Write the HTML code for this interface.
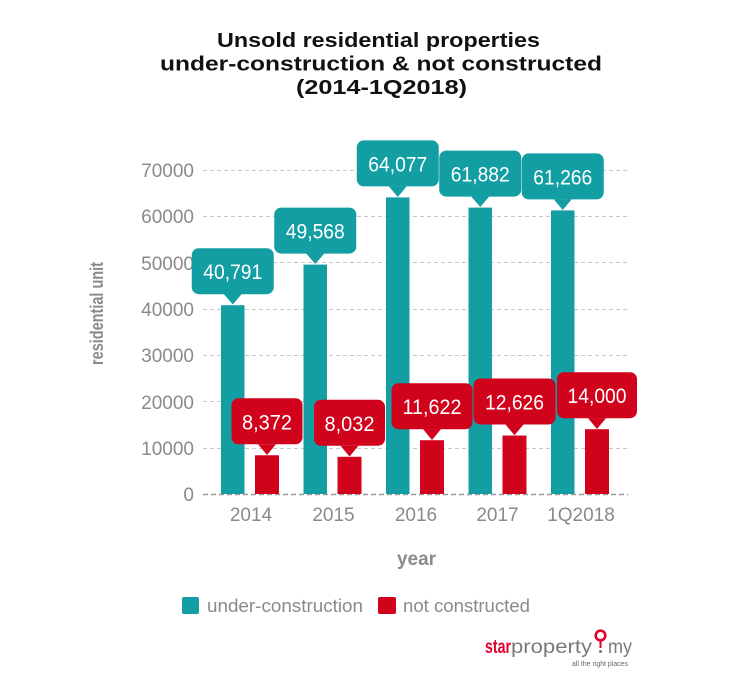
<!DOCTYPE html>
<html>
<head>
<meta charset="utf-8">
<style>
  html,body{margin:0;padding:0;background:#fff;}
  svg{display:block;}
  text{font-family:"Liberation Sans",Arial,sans-serif;}
</style>
</head>
<body>
<svg width="745" height="694" viewBox="0 0 745 694" xmlns="http://www.w3.org/2000/svg">
  <rect width="745" height="694" fill="#fff"/>

  <!-- Title -->
  <g font-weight="bold" font-size="20" fill="#111">
    <text x="217" y="47" textLength="323" lengthAdjust="spacingAndGlyphs">Unsold residential properties</text>
    <text x="160" y="70.5" textLength="442" lengthAdjust="spacingAndGlyphs">under-construction &amp; not constructed</text>
    <text x="296" y="94" textLength="171" lengthAdjust="spacingAndGlyphs">(2014-1Q2018)</text>
  </g>

  <!-- Gridlines -->
  <g stroke="#c8c8c8" stroke-width="1" stroke-dasharray="4 3">
    <line x1="203" y1="170.5" x2="628" y2="170.5"/>
    <line x1="203" y1="216.5" x2="628" y2="216.5"/>
    <line x1="203" y1="262.5" x2="628" y2="262.5"/>
    <line x1="203" y1="309.5" x2="628" y2="309.5"/>
    <line x1="203" y1="355.5" x2="628" y2="355.5"/>
    <line x1="203" y1="401.5" x2="628" y2="401.5"/>
    <line x1="203" y1="448.5" x2="628" y2="448.5"/>
  </g>
  <line x1="203" y1="494.5" x2="628" y2="494.5" stroke="#9a9a9a" stroke-width="1.5" stroke-dasharray="5 3"/>

  <!-- Y tick labels -->
  <g font-size="19" fill="#8a8a8a" text-anchor="end">
    <text x="194" y="177">70000</text>
    <text x="194" y="223">60000</text>
    <text x="194" y="270">50000</text>
    <text x="194" y="316">40000</text>
    <text x="194" y="362">30000</text>
    <text x="194" y="409">20000</text>
    <text x="194" y="455">10000</text>
    <text x="194" y="501">0</text>
  </g>

  <!-- Y axis title -->
  <text transform="translate(103,313.5) rotate(-90)" text-anchor="middle" font-size="18" font-weight="bold" fill="#8a8a8a" textLength="103" lengthAdjust="spacingAndGlyphs">residential unit</text>

  <!-- Bars teal -->
  <g fill="#139ea3">
    <rect x="221" y="305.2" width="23.5" height="188.8"/>
    <rect x="303.5" y="264.6" width="23.5" height="229.4"/>
    <rect x="386" y="197.4" width="23.5" height="296.6"/>
    <rect x="468.5" y="207.6" width="23.5" height="286.4"/>
    <rect x="551" y="210.4" width="23.5" height="283.6"/>
  </g>
  <!-- Bars red -->
  <g fill="#d0021c">
    <rect x="255" y="455.25" width="24" height="38.75"/>
    <rect x="337.5" y="456.8" width="24" height="37.2"/>
    <rect x="420" y="440.2" width="24" height="53.8"/>
    <rect x="502.5" y="435.56" width="24" height="58.44"/>
    <rect x="585" y="429.2" width="24" height="64.8"/>
  </g>

  <!-- Teal callouts -->
  <g fill="#139ea3">
    <rect x="191.75" y="248.2" width="82" height="46" rx="7"/>
    <polygon points="223.75,294 232.75,304.5 241.75,294"/>
    <rect x="274.25" y="207.6" width="82" height="46" rx="7"/>
    <polygon points="306.25,253.5 315.25,264 324.25,253.5"/>
    <rect x="356.75" y="140.4" width="82" height="46" rx="7"/>
    <polygon points="388.75,186.3 397.75,197 406.75,186.3"/>
    <rect x="439.25" y="150.6" width="82" height="46" rx="7"/>
    <polygon points="471.25,196.5 480.25,207 489.25,196.5"/>
    <rect x="521.75" y="153.4" width="82" height="46" rx="7"/>
    <polygon points="553.75,199.3 562.75,210 571.75,199.3"/>
  </g>
  <!-- Red callouts -->
  <g fill="#d0021c">
    <rect x="231.5" y="398.25" width="71" height="46" rx="7"/>
    <polygon points="258,444.2 267,455 276,444.2"/>
    <rect x="314" y="399.8" width="71" height="46" rx="7"/>
    <polygon points="340.5,445.8 349.5,456.5 358.5,445.8"/>
    <rect x="391.5" y="383.2" width="81" height="46" rx="7"/>
    <polygon points="423,429.1 432,440 441,429.1"/>
    <rect x="473.5" y="378.56" width="82" height="46" rx="7"/>
    <polygon points="505.5,424.5 514.5,435.3 523.5,424.5"/>
    <rect x="557" y="372.2" width="80" height="46" rx="7"/>
    <polygon points="588,418.1 597,429 606,418.1"/>
  </g>

  <!-- Callout text -->
  <g font-size="21" fill="#fff" text-anchor="middle">
    <text x="232.75" y="279.2" textLength="59" lengthAdjust="spacingAndGlyphs">40,791</text>
    <text x="315.25" y="238.6" textLength="59" lengthAdjust="spacingAndGlyphs">49,568</text>
    <text x="397.75" y="171.4" textLength="59" lengthAdjust="spacingAndGlyphs">64,077</text>
    <text x="480.25" y="181.6" textLength="59" lengthAdjust="spacingAndGlyphs">61,882</text>
    <text x="562.75" y="184.4" textLength="59" lengthAdjust="spacingAndGlyphs">61,266</text>
    <text x="267" y="429.25" textLength="50" lengthAdjust="spacingAndGlyphs">8,372</text>
    <text x="349.5" y="430.8" textLength="50" lengthAdjust="spacingAndGlyphs">8,032</text>
    <text x="432" y="414.2" textLength="59" lengthAdjust="spacingAndGlyphs">11,622</text>
    <text x="514.5" y="409.56" textLength="59" lengthAdjust="spacingAndGlyphs">12,626</text>
    <text x="597" y="403.2" textLength="59" lengthAdjust="spacingAndGlyphs">14,000</text>
  </g>

  <!-- X tick labels -->
  <g font-size="19" fill="#8a8a8a" text-anchor="middle">
    <text x="251" y="521">2014</text>
    <text x="333.5" y="521">2015</text>
    <text x="416" y="521">2016</text>
    <text x="497.5" y="521">2017</text>
    <text x="581" y="521">1Q2018</text>
  </g>

  <!-- X axis title -->
  <text x="397" y="565" font-size="19" font-weight="bold" fill="#8a8a8a" textLength="39" lengthAdjust="spacingAndGlyphs">year</text>

  <!-- Legend -->
  <rect x="182" y="597" width="17" height="17" rx="2" fill="#139ea3"/>
  <text x="207" y="612" font-size="18" fill="#8a8a8a" textLength="156" lengthAdjust="spacingAndGlyphs">under-construction</text>
  <rect x="378" y="597" width="18" height="17" rx="2" fill="#d0021c"/>
  <text x="403" y="612" font-size="18" fill="#8a8a8a" textLength="127" lengthAdjust="spacingAndGlyphs">not constructed</text>

  <!-- Logo -->
  <text x="485" y="653" font-size="19" font-weight="bold" fill="#e4002b" textLength="26" lengthAdjust="spacingAndGlyphs">star</text>
  <text x="511" y="653" font-size="19" fill="#7a7a7a" textLength="81" lengthAdjust="spacingAndGlyphs">property</text>
  <circle cx="600.5" cy="635.5" r="4.8" fill="none" stroke="#e4002b" stroke-width="2.6"/>
  <line x1="600.5" y1="640" x2="600.5" y2="648" stroke="#e4002b" stroke-width="2"/>
  <circle cx="600.5" cy="651.5" r="1.5" fill="#7a7a7a"/>
  <text x="608" y="653" font-size="19" fill="#7a7a7a" textLength="24" lengthAdjust="spacingAndGlyphs">my</text>
  <text x="572" y="666" font-size="7" fill="#666" textLength="56" lengthAdjust="spacingAndGlyphs">all the right places</text>
</svg>
</body>
</html>
